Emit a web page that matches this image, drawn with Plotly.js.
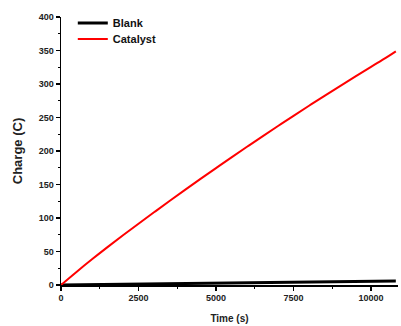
<!DOCTYPE html>
<html>
<head>
<meta charset="utf-8">
<script src="https://cdn.plot.ly/plotly-3.0.1.min.js"></script>
<style>html,body{margin:0;padding:0;background:#fff;}#chart{width:401px;height:326px;}</style>
</head>
<body>
<div id="chart"></div>
<script>
const timeCatalyst = [0, 500, 1000, 1500, 2000, 2500, 3000, 3500, 4000, 4500, 5000, 5500, 6000, 6500, 7000, 7500, 8000, 8500, 9000, 9500, 10000, 10500, 10800];
const chargeCatalyst = [0, 19.5, 38.3, 56.5, 74.2, 91.5, 108.5, 125.3, 141.9, 158.3, 174.5, 190.5, 206.3, 221.9, 237.3, 252.5, 267.5, 282.3, 296.9, 311.3, 325.6, 339.8, 348.8];
const timeBlank = [0, 2500, 5000, 7500, 10000, 10800];
const chargeBlank = [0, 1.5, 3, 4.5, 5.5, 6];
const seriesNames = ["Blank", "Catalyst"];
const xTickVals = [0, 2500, 5000, 7500, 10000];
const yTickVals = [0, 50, 100, 150, 200, 250, 300, 350, 400];

const traces = [
  {x: timeBlank, y: chargeBlank, name: seriesNames[0], mode: "lines", line: {color: "#000000", width: 3}, legend: "legend"},
  {x: timeCatalyst, y: chargeCatalyst, name: seriesNames[1], mode: "lines", line: {color: "#ff0000", width: 2, shape: "spline", smoothing: 1}, legend: "legend2"}
];

const ff = "Liberation Sans, Arial, sans-serif";
const tickFont = {family: ff, size: 9, color: "#222", weight: "bold"};
const legendFont = {family: ff, size: 11, color: "#111", weight: "bold"};
const layout = {
  width: 401, height: 326,
  margin: {l: 61, r: 3, t: 17, b: 41},
  paper_bgcolor: "#fff", plot_bgcolor: "#fff",
  showlegend: true,
  legend: {x: 0.035, y: 0.978, xanchor: "left", yanchor: "middle", bgcolor: "rgba(0,0,0,0)",
           font: legendFont, itemwidth: 30},
  legend2: {x: 0.035, y: 0.918, xanchor: "left", yanchor: "middle", bgcolor: "rgba(0,0,0,0)",
           font: legendFont, itemwidth: 30},
  xaxis: {
    range: [0, 10870], tickvals: xTickVals, ticktext: xTickVals.map(String),
    showgrid: false, zeroline: false, showline: true, linecolor: "#000", linewidth: 1.5,
    ticks: "outside", ticklen: 4, tickwidth: 1.2, tickcolor: "#000",
    minor: {dtick: 1250, tick0: 0, ticks: "outside", ticklen: 2, tickwidth: 1, tickcolor: "#000"},
    tickfont: tickFont,
    title: {text: "Time (s)", font: {family: ff, size: 10, color: "#222", weight: "bold"}, standoff: 12}
  },
  yaxis: {
    range: [0, 400], tickvals: yTickVals, ticktext: yTickVals.map(String),
    showgrid: false, zeroline: false, showline: true, linecolor: "#000", linewidth: 1.5,
    ticks: "outside", ticklen: 4, tickwidth: 1.2, tickcolor: "#000",
    minor: {dtick: 25, tick0: 0, ticks: "outside", ticklen: 2, tickwidth: 1, tickcolor: "#000"},
    tickfont: tickFont,
    title: {text: "Charge (C)", font: {family: ff, size: 13, color: "#222", weight: "bold"}, standoff: 13}
  }
};
Plotly.newPlot("chart", traces, layout, {displayModeBar: false, staticPlot: true});
</script>
</body>
</html>
